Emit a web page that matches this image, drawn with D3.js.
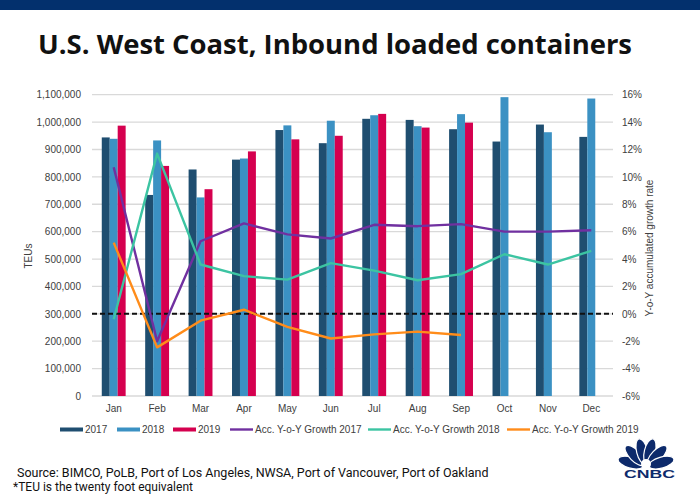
<!DOCTYPE html>
<html>
<head>
<meta charset="utf-8">
<script src="https://cdn.jsdelivr.net/npm/d3@7"></script>
<style>
  html, body { margin: 0; padding: 0; background: #fff; }
  svg { display: block; }
</style>
</head>
<body>
<svg id="chart" width="700" height="500"></svg>
<script>
// ---------- DATA ----------
const months = ["Jan","Feb","Mar","Apr","May","Jun","Jul","Aug","Sep","Oct","Nov","Dec"];
const years = ["2017","2018","2019"];
const teu2017 = [944000, 734000, 827000, 863000, 971000, 923000, 1012000, 1008000, 974000, 929000, 991000, 946000];
const teu2018 = [939000, 933000, 725000, 867000, 988000, 1005000, 1025000, 985000, 1029000, 1091000, 963000, 1086000];
const teu2019 = [987000, 840000, 755000, 893000, 937000, 950000, 1030000, 980000, 998000];
const growth2017 = [10.7, -2.0, 5.3, 6.6, 5.8, 5.5, 6.5, 6.4, 6.55, 6.0, 6.0, 6.1];
const growth2018 = [-0.4, 11.7, 3.6, 2.75, 2.5, 3.7, 3.15, 2.45, 2.9, 4.35, 3.6, 4.6];
const growth2019 = [5.2, -2.45, -0.5, 0.3, -0.95, -1.8, -1.5, -1.3, -1.55];
const leftTicks = [0,100000,200000,300000,400000,500000,600000,700000,800000,900000,1000000,1100000];
const rightTicks = [-6,-4,-2,0,2,4,6,8,10,12,14,16];
const legendLabels = ["2017","2018","2019","Acc. Y-o-Y Growth 2017","Acc. Y-o-Y Growth 2018","Acc. Y-o-Y Growth 2019"];

// ---------- STYLE ----------
const barColors = {"2017":"#1f4e70","2018":"#3b91c3","2019":"#d5004f"};
const lineColors = ["#7030a0","#3cc4a2","#ff8c1a"];
const axisFont = "'Liberation Sans', Arial, sans-serif";

const svg = d3.select("#chart");

// top band
svg.append("rect").attr("x",0).attr("y",0).attr("width",700).attr("height",10).attr("fill","#03306d");

// title
svg.append("text").attr("x",38).attr("y",54)
  .attr("textLength",594).attr("lengthAdjust","spacingAndGlyphs")
  .attr("font-family","'Open Sans', Roboto, sans-serif").attr("font-weight",700)
  .attr("font-size",26).attr("fill","#111").text("U.S. West Coast, Inbound loaded containers");

// scales
const plotL = 92, plotR = 613, plotT = 94.7, plotB = 396;
const x0 = d3.scaleBand().domain(months).range([plotL, plotR]).paddingInner(0.45).paddingOuter(0.225);
const x1 = d3.scaleBand().domain(years).range([0, x0.bandwidth()]);
const yL = d3.scaleLinear().domain([0,1100000]).range([plotB, plotT]);
const yR = d3.scaleLinear().domain([-6,16]).range([plotB, plotT]);

// gridlines
svg.append("g").selectAll("line").data(leftTicks).join("line")
  .attr("x1",plotL).attr("x2",plotR)
  .attr("y1",d=>yL(d)).attr("y2",d=>yL(d))
  .attr("stroke","#d9d9d9").attr("stroke-width",1.3);

// left axis
const leftAxis = d3.axisLeft(yL).tickValues(leftTicks).tickFormat(d3.format(",")).tickSize(0).tickPadding(0);
const gL = svg.append("g").attr("transform","translate(81,0)").call(leftAxis);
gL.select(".domain").remove();
gL.selectAll("text").attr("font-family",axisFont).attr("font-size",10).attr("fill","#404040");

// right axis
const rightAxis = d3.axisRight(yR).tickValues(rightTicks).tickFormat(d=>d+"%").tickSize(0).tickPadding(0);
const gR = svg.append("g").attr("transform","translate(622,0)").call(rightAxis);
gR.select(".domain").remove();
gR.selectAll("text").attr("font-family",axisFont).attr("font-size",10).attr("fill","#404040");

// bottom axis labels
const bottomAxis = d3.axisBottom(x0).tickSize(0).tickPadding(0);
const gB = svg.append("g").attr("transform","translate(0,405)").call(bottomAxis);
gB.select(".domain").remove();
gB.selectAll("text").attr("font-family",axisFont).attr("font-size",10).attr("fill","#404040");

// axis titles
svg.append("text").attr("transform","translate(32,256) rotate(-90)").attr("text-anchor","middle")
  .attr("font-family",axisFont).attr("font-size",10).attr("fill","#404040").text("TEUs");
svg.append("text").attr("transform","translate(653,248) rotate(-90)").attr("text-anchor","middle")
  .attr("font-family",axisFont).attr("font-size",10).attr("fill","#404040").text("Y-o-Y accumulated growth rate");

// bars
const seriesBars = [teu2017, teu2018, teu2019];
const barData = [];
years.forEach((yr,i)=>{
  seriesBars[i].forEach((v,j)=>barData.push({year:yr, month:months[j], value:v}));
});
svg.append("g").selectAll("rect").data(barData).join("rect")
  .attr("x",d=>x0(d.month)+x1(d.year))
  .attr("width",x1.bandwidth())
  .attr("y",d=>yL(d.value))
  .attr("height",d=>plotB - yL(d.value))
  .attr("fill",d=>barColors[d.year]);

// zero dashed line
svg.append("line").attr("x1",plotL).attr("x2",plotR)
  .attr("y1",yR(0)).attr("y2",yR(0))
  .attr("stroke","#111").attr("stroke-width",2).attr("stroke-dasharray","5,3");

// growth lines
const lineGen = d3.line()
  .x((d,i)=>x0(months[i]) + x0.bandwidth()/2)
  .y(d=>yR(d))
  .curve(d3.curveLinear);
[growth2017, growth2018, growth2019].forEach((s,i)=>{
  svg.append("path").datum(s).attr("d",lineGen)
    .attr("fill","none").attr("stroke",lineColors[i]).attr("stroke-width",2.4)
    .attr("stroke-linejoin","round");
});

// legend
const legendItems = [
  {label:legendLabels[0], type:"bar", color:barColors["2017"], x:60},
  {label:legendLabels[1], type:"bar", color:barColors["2018"], x:117},
  {label:legendLabels[2], type:"bar", color:barColors["2019"], x:173},
  {label:legendLabels[3], type:"line", color:lineColors[0], x:230},
  {label:legendLabels[4], type:"line", color:lineColors[1], x:368},
  {label:legendLabels[5], type:"line", color:lineColors[2], x:507}
];
const lg = svg.append("g");
const legY = 429.5;
legendItems.forEach(it=>{
  if (it.type==="bar") {
    lg.append("rect").attr("x",it.x).attr("y",legY-2).attr("width",23).attr("height",4).attr("fill",it.color);
  } else {
    lg.append("line").attr("x1",it.x).attr("x2",it.x+23).attr("y1",legY).attr("y2",legY)
      .attr("stroke",it.color).attr("stroke-width",2.4);
  }
  lg.append("text").attr("x",it.x+25).attr("y",legY+3.6)
    .attr("font-family",axisFont).attr("font-size",10).attr("fill","#404040").text(it.label);
});

// source notes
svg.append("text").attr("x",17).attr("y",477)
  .attr("font-family","Roboto, 'Open Sans', sans-serif").attr("font-size",12.5).attr("fill","#111")
  .text("Source: BIMCO, PoLB, Port of Los Angeles, NWSA, Port of Vancouver, Port of Oakland");
svg.append("text").attr("x",13).attr("y",491)
  .attr("font-family","Roboto, 'Open Sans', sans-serif").attr("font-size",12).attr("fill","#111")
  .text("*TEU is the twenty foot equivalent");

// CNBC logo
const logo = svg.append("g").attr("transform","translate(646,467)");
const angles = [-74,-44,-14,14,44,74];
angles.forEach(a=>{
  logo.append("ellipse").attr("cx",0).attr("cy",-16).attr("rx",5.5).attr("ry",13)
    .attr("transform",`rotate(${a})`).attr("fill","#0d2a6b")
    .attr("stroke","#fff").attr("stroke-width",1.2);
});
logo.append("circle").attr("cx",0).attr("cy",-3).attr("r",5).attr("fill","#fff");
svg.append("text").attr("x",624).attr("y",478).attr("textLength",51).attr("lengthAdjust","spacingAndGlyphs")
  .attr("font-family","'Liberation Sans', Arial, sans-serif").attr("font-weight",700).attr("font-size",11)
  .attr("fill","#0d2a6b").text("CNBC");
</script>
</body>
</html>
